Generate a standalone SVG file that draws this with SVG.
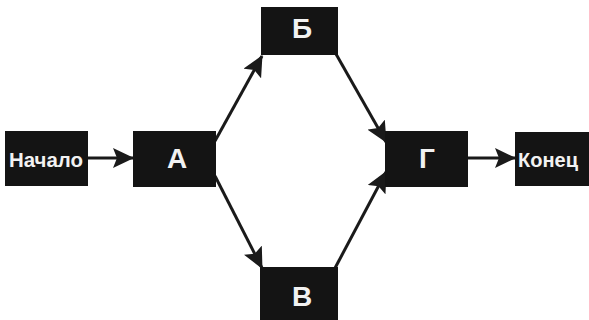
<svg xmlns="http://www.w3.org/2000/svg" width="589" height="320" viewBox="0 0 589 320">
<style>
.box{fill:#141414}
.lbl{fill:#f2f2f2;font-family:"Liberation Sans",Arial,sans-serif;font-weight:bold}
.big{font-size:28px}
.sm{font-size:20px}
.conn line{stroke:#1a1a1a;stroke-width:3;fill:none}
</style>
<defs>
<marker id="ah" markerUnits="userSpaceOnUse" markerWidth="22" markerHeight="20" refX="20" refY="10" orient="auto">
<path d="M0,0 L21,10 L0,20 L4,10 z" fill="#1a1a1a"/>
</marker>
</defs>
<rect width="589" height="320" fill="#ffffff"/>
<g class="conn">
<line x1="88" y1="158" x2="133" y2="158" marker-end="url(#ah)"/>
<line x1="215" y1="141" x2="262" y2="56" marker-end="url(#ah)"/>
<line x1="215" y1="176" x2="262" y2="268" marker-end="url(#ah)"/>
<line x1="336" y1="54" x2="386" y2="142" marker-end="url(#ah)"/>
<line x1="334" y1="270" x2="386" y2="172" marker-end="url(#ah)"/>
<line x1="467" y1="158" x2="515" y2="158" marker-end="url(#ah)"/>
</g>
<g id="start"><rect class="box" x="5" y="131" width="83" height="55"/><text class="lbl sm" x="9" y="167" textLength="74" lengthAdjust="spacingAndGlyphs">Начало</text></g>
<g id="A"><rect class="box" x="133" y="131" width="83" height="56"/><text class="lbl big" x="177" y="168" text-anchor="middle">А</text></g>
<g id="B1"><rect class="box" x="261" y="7" width="77" height="48"/><text class="lbl big" x="302" y="38" text-anchor="middle">Б</text></g>
<g id="V"><rect class="box" x="260" y="267" width="78" height="53"/><text class="lbl big" x="302" y="306" text-anchor="middle">В</text></g>
<g id="G"><rect class="box" x="385" y="131" width="83" height="56"/><text class="lbl big" x="427" y="168" text-anchor="middle">Г</text></g>
<g id="end"><rect class="box" x="515" y="132" width="80" height="54"/><text class="lbl sm" x="518" y="167">Конец</text></g>
</svg>
